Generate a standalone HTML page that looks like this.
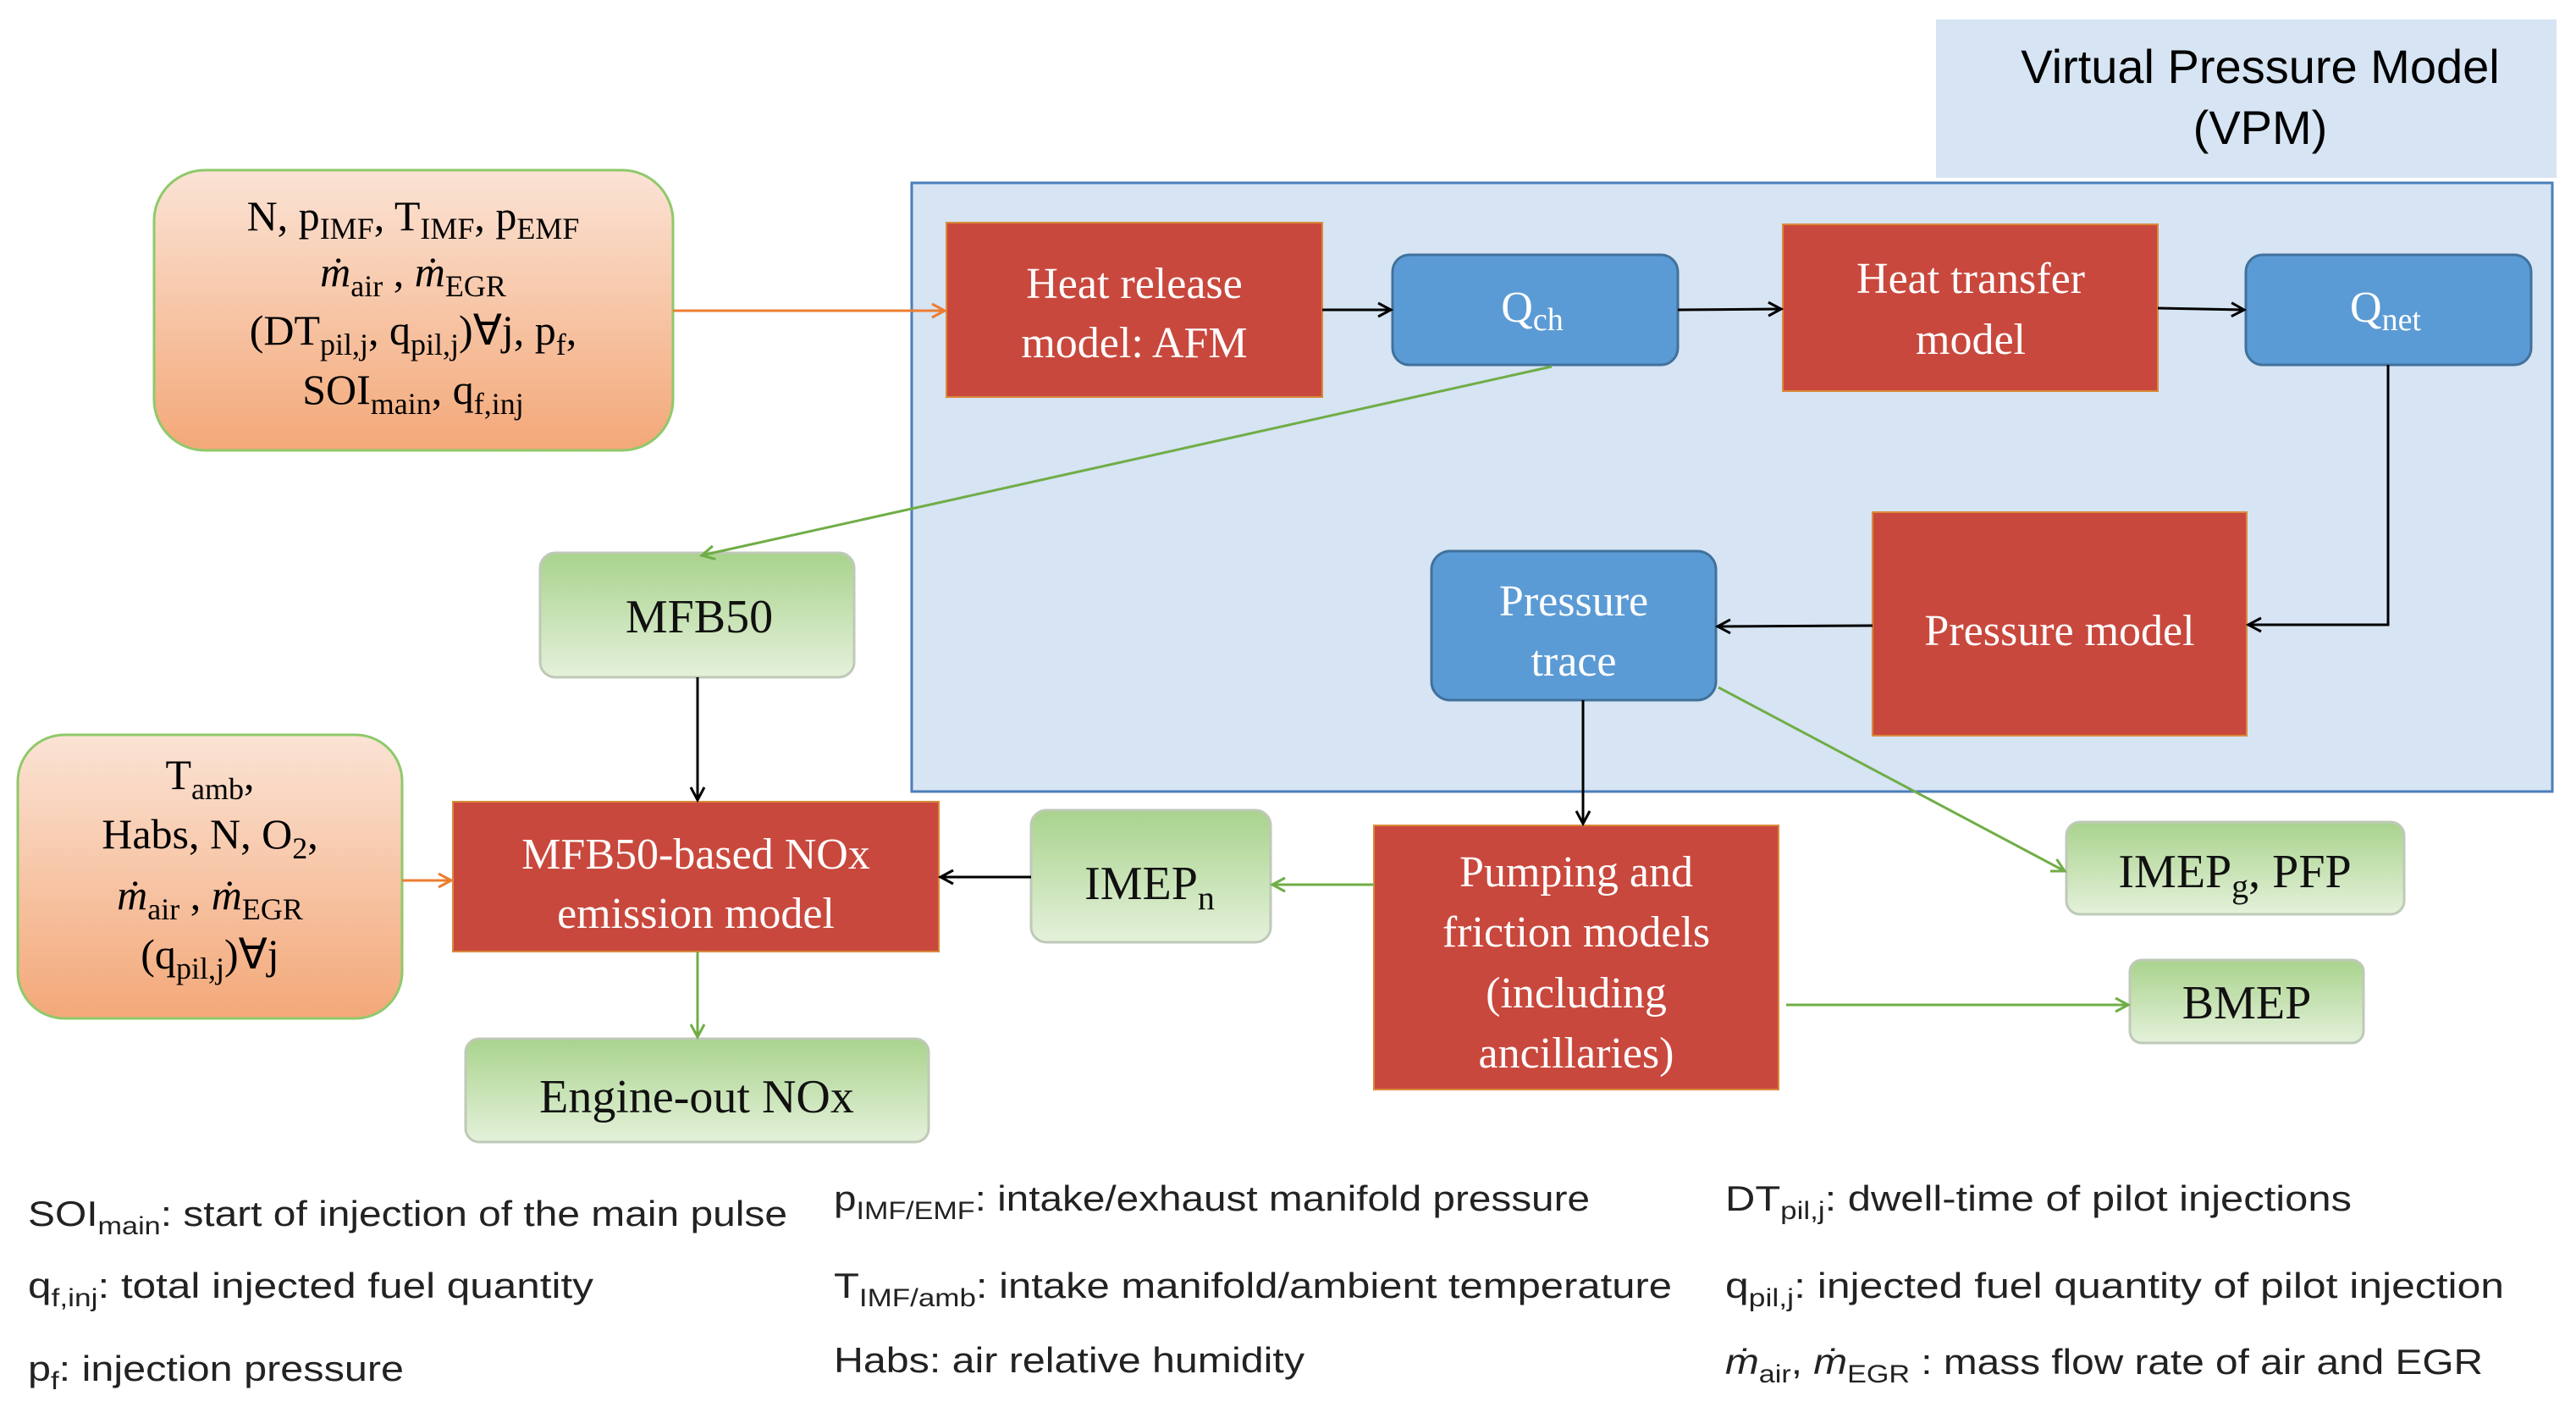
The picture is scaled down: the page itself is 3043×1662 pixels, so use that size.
<!DOCTYPE html>
<html><head><meta charset="utf-8"><style>
html,body{margin:0;padding:0;background:#fff}
svg{display:block}
.s{font-family:"Liberation Serif",serif}
.a{font-family:"Liberation Sans",sans-serif}
</style></head><body>
<svg width="3043" height="1662" viewBox="0 0 3043 1662" xmlns="http://www.w3.org/2000/svg">
<defs>
<linearGradient id="og" x1="0" y1="0" x2="0" y2="1"><stop offset="0" stop-color="#fbe3d5"/><stop offset="1" stop-color="#f3a878"/></linearGradient>
<linearGradient id="gg" x1="0" y1="0" x2="0" y2="1"><stop offset="0" stop-color="#a9d38d"/><stop offset="1" stop-color="#e4f1da"/></linearGradient>
<marker id="ab" markerWidth="20" markerHeight="20" refX="17" refY="10" orient="auto" markerUnits="userSpaceOnUse"><path d="M2,2 L17,10 L2,18" fill="none" stroke="#000" stroke-width="3"/></marker>
<marker id="ag" markerWidth="20" markerHeight="20" refX="17" refY="10" orient="auto" markerUnits="userSpaceOnUse"><path d="M2,2 L17,10 L2,18" fill="none" stroke="#70ad47" stroke-width="3"/></marker>
<marker id="ao" markerWidth="20" markerHeight="20" refX="17" refY="10" orient="auto" markerUnits="userSpaceOnUse"><path d="M2,2 L17,10 L2,18" fill="none" stroke="#ed7d31" stroke-width="3"/></marker>
</defs>

<!-- VPM region -->
<rect x="2287" y="23" width="733" height="187" fill="#d6e4f3"/>
<text class="a" x="2670" y="98" font-size="56" text-anchor="middle">Virtual Pressure Model</text>
<text class="a" x="2670" y="170" font-size="56" text-anchor="middle">(VPM)</text>
<rect x="1077" y="216" width="1938" height="719" fill="#d6e4f3" stroke="#4a7ebb" stroke-width="3"/>

<!-- input boxes -->
<rect x="182" y="201" width="613" height="331" rx="60" fill="url(#og)" stroke="#8fc96a" stroke-width="3"/>
<g class="s" font-size="50" text-anchor="middle">
<text x="488" y="272">N, p<tspan font-size="36" dy="10">IMF</tspan><tspan dy="-10">, T</tspan><tspan font-size="36" dy="10">IMF</tspan><tspan dy="-10">, p</tspan><tspan font-size="36" dy="10">EMF</tspan></text>
<text x="488" y="338"><tspan font-style="italic">ṁ</tspan><tspan font-size="36" dy="12">air</tspan><tspan dy="-12"> , </tspan><tspan font-style="italic">ṁ</tspan><tspan font-size="36" dy="12">EGR</tspan></text>
<text x="488" y="407">(DT<tspan font-size="36" dy="12">pil,j</tspan><tspan dy="-12">, q</tspan><tspan font-size="36" dy="12">pil,j</tspan><tspan dy="-12">)∀j, p</tspan><tspan font-size="36" dy="12">f</tspan><tspan dy="-12">,</tspan></text>
<text x="488" y="477">SOI<tspan font-size="36" dy="12">main</tspan><tspan dy="-12">, q</tspan><tspan font-size="36" dy="12">f,inj</tspan></text>
</g>

<rect x="21" y="868" width="454" height="335" rx="55" fill="url(#og)" stroke="#8fc96a" stroke-width="3"/>
<g class="s" font-size="50" text-anchor="middle">
<text x="248" y="932">T<tspan font-size="36" dy="12">amb</tspan><tspan dy="-12">,</tspan></text>
<text x="248" y="1002">Habs, N, O<tspan font-size="36" dy="12">2</tspan><tspan dy="-12">,</tspan></text>
<text x="248" y="1074"><tspan font-style="italic">ṁ</tspan><tspan font-size="36" dy="12">air</tspan><tspan dy="-12"> , </tspan><tspan font-style="italic">ṁ</tspan><tspan font-size="36" dy="12">EGR</tspan></text>
<text x="248" y="1144">(q<tspan font-size="36" dy="12">pil,j</tspan><tspan dy="-12">)∀j</tspan></text>
</g>

<!-- red boxes -->
<g fill="#c9483d" stroke="#d98a3a" stroke-width="2">
<rect x="1118" y="263" width="444" height="206"/>
<rect x="2106" y="265" width="443" height="197"/>
<rect x="2212" y="605" width="442" height="264"/>
<rect x="1623" y="975" width="478" height="312"/>
<rect x="535" y="947" width="574" height="177"/>
</g>
<g class="s" font-size="52" fill="#fff" text-anchor="middle">
<text x="1340" y="352">Heat release</text>
<text x="1340" y="422">model:  AFM</text>
<text x="2328" y="346">Heat transfer</text>
<text x="2328" y="418">model</text>
<text x="2433" y="762">Pressure model</text>
<text x="1862" y="1047">Pumping and</text>
<text x="1862" y="1118">friction models</text>
<text x="1862" y="1190">(including</text>
<text x="1862" y="1261">ancillaries)</text>
<text x="822" y="1026">MFB50-based NOx</text>
<text x="822" y="1096">emission model</text>
</g>

<!-- blue nodes -->
<g fill="#5b9bd5" stroke="#41719c" stroke-width="3">
<rect x="1645" y="301" width="337" height="130" rx="20"/>
<rect x="2653" y="301" width="337" height="130" rx="20"/>
<rect x="1691" y="651" width="336" height="176" rx="22"/>
</g>
<g class="s" font-size="52" fill="#fff" text-anchor="middle">
<text x="1810" y="380">Q<tspan font-size="38" dy="10">ch</tspan></text>
<text x="2818" y="380">Q<tspan font-size="38" dy="10">net</tspan></text>
<text x="1859" y="727">Pressure</text>
<text x="1859" y="798">trace</text>
</g>

<!-- green boxes -->
<g fill="url(#gg)" stroke="#bfc9b8" stroke-width="3">
<rect x="638" y="653" width="371" height="147" rx="18"/>
<rect x="1218" y="957" width="283" height="156" rx="18"/>
<rect x="550" y="1227" width="547" height="122" rx="16"/>
<rect x="2441" y="971" width="399" height="109" rx="16"/>
<rect x="2516" y="1134" width="276" height="98" rx="14"/>
</g>
<g class="s" font-size="56" fill="#111" text-anchor="middle">
<text x="826" y="747">MFB50</text>
<text x="1358" y="1062">IMEP<tspan font-size="40" dy="12">n</tspan></text>
<text x="823" y="1314">Engine-out NOx</text>
<text x="2640" y="1048">IMEP<tspan font-size="40" dy="12">g</tspan><tspan dy="-12">, PFP</tspan></text>
<text x="2654" y="1203">BMEP</text>
</g>

<!-- connectors -->
<g fill="none" stroke-width="3">
<line x1="795" y1="367" x2="1116" y2="367" stroke="#ed7d31" marker-end="url(#ao)"/>
<line x1="475" y1="1040" x2="533" y2="1040" stroke="#ed7d31" marker-end="url(#ao)"/>
<line x1="1562" y1="366" x2="1643" y2="366" stroke="#000" marker-end="url(#ab)"/>
<line x1="1982" y1="366" x2="2104" y2="365" stroke="#000" marker-end="url(#ab)"/>
<line x1="2549" y1="364" x2="2651" y2="366" stroke="#000" marker-end="url(#ab)"/>
<polyline points="2821,431 2821,738 2656,738" stroke="#000" marker-end="url(#ab)"/>
<line x1="2212" y1="739" x2="2029" y2="740" stroke="#000" marker-end="url(#ab)"/>
<line x1="1870" y1="827" x2="1870" y2="973" stroke="#000" marker-end="url(#ab)"/>
<line x1="824" y1="800" x2="824" y2="945" stroke="#000" marker-end="url(#ab)"/>
<line x1="1218" y1="1036" x2="1111" y2="1036" stroke="#000" marker-end="url(#ab)"/>
<line x1="1833" y1="433" x2="829" y2="656" stroke="#70ad47" marker-end="url(#ag)"/>
<line x1="2030" y1="812" x2="2439" y2="1029" stroke="#70ad47" marker-end="url(#ag)"/>
<line x1="1623" y1="1045" x2="1503" y2="1045" stroke="#70ad47" marker-end="url(#ag)"/>
<line x1="2110" y1="1187" x2="2514" y2="1187" stroke="#70ad47" marker-end="url(#ag)"/>
<line x1="824" y1="1124" x2="824" y2="1225" stroke="#70ad47" marker-end="url(#ag)"/>
</g>

<!-- legend -->
<g class="a" font-size="42" fill="#222">
<text x="33" y="1448" textLength="897" lengthAdjust="spacingAndGlyphs">SOI<tspan font-size="30" dy="10">main</tspan><tspan dy="-10">: start of injection of the main pulse</tspan></text>
<text x="985" y="1430" textLength="893" lengthAdjust="spacingAndGlyphs">p<tspan font-size="30" dy="10">IMF/EMF</tspan><tspan dy="-10">: intake/exhaust manifold pressure</tspan></text>
<text x="2038" y="1430" textLength="740" lengthAdjust="spacingAndGlyphs">DT<tspan font-size="30" dy="10">pil,j</tspan><tspan dy="-10">: dwell-time of pilot injections</tspan></text>
<text x="33" y="1533" textLength="668" lengthAdjust="spacingAndGlyphs">q<tspan font-size="30" dy="10">f,inj</tspan><tspan dy="-10">: total injected fuel quantity</tspan></text>
<text x="985" y="1533" textLength="990" lengthAdjust="spacingAndGlyphs">T<tspan font-size="30" dy="10">IMF/amb</tspan><tspan dy="-10">: intake manifold/ambient temperature</tspan></text>
<text x="2038" y="1533" textLength="920" lengthAdjust="spacingAndGlyphs">q<tspan font-size="30" dy="10">pil,j</tspan><tspan dy="-10">: injected fuel quantity of pilot injection</tspan></text>
<text x="33" y="1631" textLength="444" lengthAdjust="spacingAndGlyphs">p<tspan font-size="30" dy="10">f</tspan><tspan dy="-10">: injection pressure</tspan></text>
<text x="985" y="1621" textLength="556" lengthAdjust="spacingAndGlyphs">Habs: air relative humidity</text>
<text x="2038" y="1623" textLength="895" lengthAdjust="spacingAndGlyphs"><tspan font-style="italic">ṁ</tspan><tspan font-size="30" dy="10">air</tspan><tspan dy="-10">, </tspan><tspan font-style="italic">ṁ</tspan><tspan font-size="30" dy="10">EGR</tspan><tspan dy="-10"> : mass flow rate of air and EGR</tspan></text>
</g>
</svg>
</body></html>
